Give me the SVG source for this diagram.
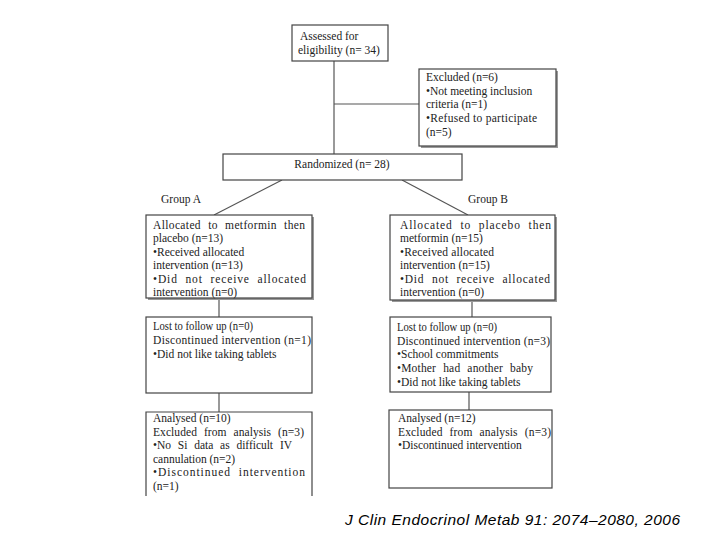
<svg xmlns="http://www.w3.org/2000/svg" width="720" height="540" viewBox="0 0 720 540">
<style>
.box{fill:#fff;stroke:#444;stroke-width:1.2}
.sh{fill:#999}
.t{font-family:"Liberation Serif","Times New Roman",serif;font-size:11.5px;fill:#222}
.j{word-spacing:4px}
.c{stroke:#555;stroke-width:1.2;fill:none}
.cite{font-family:"Liberation Sans",Arial,sans-serif;font-style:italic;font-size:15.5px;fill:#000}
</style>
<rect width="720" height="540" fill="#fff"/>
<g id="connectors">
<line class="c" x1="334" y1="61" x2="334" y2="154"/>
<line class="c" x1="334" y1="104" x2="419" y2="104"/>
<line class="c" x1="282" y1="180" x2="214" y2="215"/>
<line class="c" x1="402" y1="180" x2="468" y2="215"/>
<line class="c" x1="219" y1="298" x2="219" y2="317"/>
<line class="c" x1="472" y1="300" x2="472" y2="317"/>
<line class="c" x1="219" y1="393" x2="219" y2="412"/>
<line class="c" x1="469" y1="392" x2="469" y2="410"/>
</g>
<g id="assessed">
<rect class="box" x="292" y="25" width="96" height="36"/>
<text class="t" x="300" y="40">Assessed for</text>
<text class="t" x="298" y="54">eligibility (n= 34)</text>
</g>
<g id="excluded">
<rect class="sh" x="421" y="71" width="137" height="77"/>
<rect class="box" x="419" y="69" width="137" height="77"/>
<text class="t" x="426" y="81">Excluded (n=6)</text>
<text class="t" x="426" y="95">•Not meeting inclusion</text>
<text class="t" x="426" y="108">criteria (n=1)</text>
<text class="t" x="426" y="122" textLength="111" lengthAdjust="spacing">•Refused to participate</text>
<text class="t" x="426" y="136">(n=5)</text>
</g>
<g id="randomized">
<rect class="box" x="223" y="154" width="239" height="26"/>
<text class="t" x="342" y="168" text-anchor="middle">Randomized (n= 28)</text>
</g>
<g id="groupA-label"><text class="t" x="161" y="203">Group A</text></g>
<g id="groupB-label"><text class="t" x="468" y="203">Group B</text></g>
<g id="allocA">
<rect class="sh" x="148" y="217" width="166" height="83"/>
<rect class="box" x="146" y="215" width="166" height="83"/>
<text class="t j" x="153" y="229" textLength="152" lengthAdjust="spacing">Allocated to metformin then</text>
<text class="t" x="153" y="242">placebo (n=13)</text>
<text class="t" x="153" y="256">•Received allocated</text>
<text class="t" x="153" y="269">intervention (n=13)</text>
<text class="t j" x="153" y="283" textLength="153" lengthAdjust="spacing">•Did not receive allocated</text>
<text class="t" x="153" y="296">intervention (n=0)</text>
</g>
<g id="allocB">
<rect class="sh" x="392" y="217" width="165" height="85"/>
<rect class="box" x="390" y="215" width="165" height="85"/>
<text class="t j" x="400" y="229" textLength="151" lengthAdjust="spacing">Allocated to placebo then</text>
<text class="t" x="400" y="242">metformin (n=15)</text>
<text class="t" x="400" y="256" textLength="94" lengthAdjust="spacing">•Received allocated</text>
<text class="t" x="400" y="269">intervention (n=15)</text>
<text class="t j" x="400" y="283" textLength="150" lengthAdjust="spacing">•Did not receive allocated</text>
<text class="t" x="400" y="296">intervention (n=0)</text>
</g>
<g id="lostA">
<rect class="box" x="146" y="317" width="166" height="76"/>
<text class="t" x="153" y="330" textLength="100" lengthAdjust="spacingAndGlyphs">Lost to follow up (n=0)</text>
<text class="t" x="153" y="344" textLength="158" lengthAdjust="spacing">Discontinued intervention (n=1)</text>
<text class="t" x="153" y="358">•Did not like taking tablets</text>
</g>
<g id="lostB">
<rect class="box" x="390" y="317" width="161" height="75"/>
<text class="t" x="397" y="331" textLength="100" lengthAdjust="spacingAndGlyphs">Lost to follow up (n=0)</text>
<text class="t" x="397" y="345" textLength="153" lengthAdjust="spacing">Discontinued intervention (n=3)</text>
<text class="t" x="397" y="358">•School commitments</text>
<text class="t j" x="397" y="372" textLength="136" lengthAdjust="spacing">•Mother had another baby</text>
<text class="t" x="397" y="386">•Did not like taking tablets</text>
</g>
<g id="analysedA">
<path class="box" d="M146,496 V412 H312 V496"/>
<text class="t" x="153" y="422">Analysed (n=10)</text>
<text class="t j" x="153" y="436" textLength="151" lengthAdjust="spacing">Excluded from analysis (n=3)</text>
<text class="t j" x="153" y="449" textLength="139" lengthAdjust="spacing">•No Si data as difficult IV</text>
<text class="t" x="153" y="463">cannulation (n=2)</text>
<text class="t j" x="153" y="476" textLength="152" lengthAdjust="spacing">•Discontinued intervention</text>
<text class="t" x="153" y="490">(n=1)</text>
</g>
<g id="analysedB">
<rect class="box" x="389" y="410" width="163" height="78"/>
<text class="t" x="398" y="422">Analysed (n=12)</text>
<text class="t j" x="398" y="436" textLength="153" lengthAdjust="spacing">Excluded from analysis (n=3)</text>
<text class="t" x="398" y="449">•Discontinued intervention</text>
</g>
<g id="citation">
<text class="cite" x="345" y="525" textLength="335" lengthAdjust="spacing">J Clin Endocrinol Metab 91: 2074–2080, 2006</text>
</g>
</svg>
